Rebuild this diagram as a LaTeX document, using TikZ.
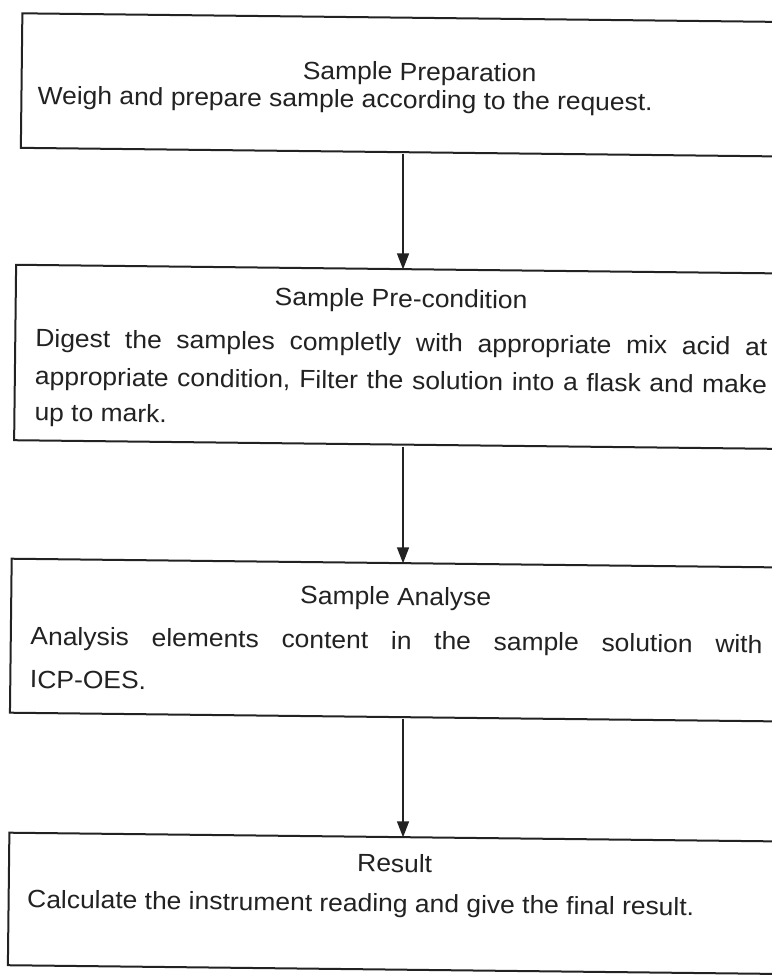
\documentclass[tikz,border=0pt]{standalone}
\usepackage{fontspec}
\setmainfont{Liberation Sans}[FakeStretch=1.06]
\usetikzlibrary{arrows.meta}
\definecolor{ink}{HTML}{222222}
\begin{document}
\begin{tikzpicture}[x=0.75pt,y=-0.75pt,
  box/.style={draw=ink, line width=1.5pt, rectangle, inner sep=0pt, anchor=north west, transform shape},
  ttl/.style={text=ink, font=\fontsize{18.7}{22}\selectfont, anchor=base, inner sep=0pt, transform shape},
  txt/.style={text=ink, font=\fontsize{18.7}{22}\selectfont, anchor=base west, inner sep=0pt, transform shape},
  arr/.style={draw=ink, line width=1.1pt, -{Triangle[width=9pt,length=12pt]}}
]
\useasboundingbox (0,0) rectangle (772,976);
\fill[white] (0,0) rectangle (772,976);
\clip (0,0) rectangle (772,976);
\begin{scope}[rotate around={-0.65:(390,488)}]
  % boxes (right side runs off the page)
  \node[box, minimum width=738pt, minimum height=100.9pt] (b1) at (16,16.5) {};
  \node[box, minimum width=741pt, minimum height=131.6pt] (b2) at (12.6,268) {};
  \node[box, minimum width=741pt, minimum height=115.5pt] (b3) at (11.5,562) {};
  \node[box, minimum width=741pt, minimum height=99.4pt] (b4) at (12.3,836) {};
  % texts
  \node[ttl] (t1) at (415,80) {Sample Preparation};
  \node[txt] (l1a) at (33,108) {Weigh and prepare sample according to the request.};
  \node[ttl] (t2) at (399,307) {Sample Pre-condition};
  \node[txt] (l2a) at (33.5,351) {\makebox[549pt][s]{Digest the samples completly with appropriate mix acid at}};
  \node[txt] (l2b) at (33.5,389) {\makebox[549pt][s]{appropriate condition, Filter the solution into a flask and make}};
  \node[txt] (l2c) at (33.5,425) {up to mark.};
  \node[ttl] (t3) at (397,605) {Sample Analyse};
  \node[txt] (l3a) at (32,649) {\makebox[549pt][s]{Analysis elements content in the sample solution with}};
  \node[txt] (l3b) at (32,692) {ICP-OES.};
  \node[ttl] (t4) at (399,872) {Result};
  \node[txt] (l4a) at (31.7,912) {Calculate the instrument reading and give the final result.};
  % arrow column
  \coordinate (ax) at (397.5,0);
\end{scope}
\draw[arr] (b1.south -| ax) -- (b2.north -| ax);
\draw[arr] (b2.south -| ax) -- (b3.north -| ax);
\draw[arr] (b3.south -| ax) -- (b4.north -| ax);
\end{tikzpicture}
\end{document}
